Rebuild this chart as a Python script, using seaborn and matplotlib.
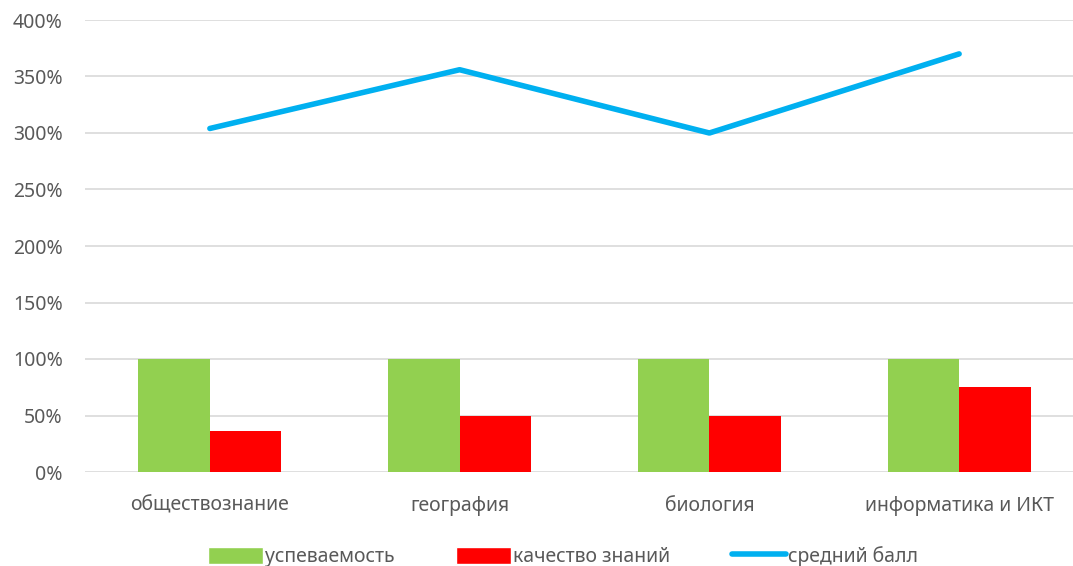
import matplotlib
matplotlib.use("Agg")
import matplotlib.pyplot as plt
import matplotlib.ticker as mticker
from matplotlib.patches import Patch
from matplotlib.lines import Line2D
import pandas as pd
import seaborn as sns

subjects = ["обществознание", "география", "биология", "информатика и ИКТ"]
success = [100, 100, 100, 100]
quality = [36, 50, 50, 75]
avg_score = [304, 356, 300, 370]

GREEN = "#92D050"
RED = "#FF0000"
BLUE = "#00B0F0"

sns.set_theme(style="white")
plt.rcParams["font.family"] = ["Noto Sans", "DejaVu Sans"]

bars = pd.DataFrame({
    "subject": subjects * 2,
    "value": success + quality,
    "series": ["успеваемость"] * 4 + ["качество знаний"] * 4,
})

fig = plt.figure(figsize=(10.73, 5.66), dpi=100)
ax = fig.add_axes([85 / 1073, 1 - 472 / 566, 999 / 1073, 452 / 566])

sns.barplot(data=bars, x="subject", y="value", hue="series",
            palette=[GREEN, RED], width=0.573, gap=0, saturation=1,
            linewidth=0, legend=False, ax=ax)
sns.lineplot(x=subjects, y=avg_score, color=BLUE, linewidth=4,
             sort=False, ax=ax)

ax.set_ylim(0, 400)
ax.set_xlim(-0.5, 3.5)
ax.yaxis.set_major_locator(mticker.MultipleLocator(50))
ax.yaxis.set_major_formatter(mticker.FuncFormatter(lambda v, _: f"{v:.0f}%"))
ax.grid(axis="y", color="#D9D9D9", linewidth=1.2)
ax.set_axisbelow(True)
for s in ax.spines.values():
    s.set_visible(False)
ax.set_xlabel("")
ax.set_ylabel("")
ax.tick_params(axis="both", length=0, labelsize=14, labelcolor="#595959")
ax.tick_params(axis="x", pad=17)
ax.tick_params(axis="y", pad=16)

handles = [
    Patch(facecolor=GREEN, label="успеваемость"),
    Patch(facecolor=RED, label="качество знаний"),
    Line2D([0], [0], color=BLUE, linewidth=4, label="средний балл"),
]
fig.legend(handles=handles, loc="lower center", ncol=3, frameon=False,
           bbox_to_anchor=(0.525, -0.033), fontsize=14, labelcolor="#595959",
           handlelength=2.8, handleheight=1.0, handletextpad=0.1,
           columnspacing=3.2)

fig.savefig("out.png", dpi=100)
